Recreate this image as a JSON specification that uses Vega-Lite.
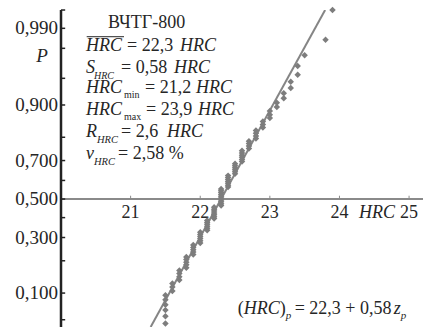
{
  "$schema": "https://vega.github.io/schema/vega-lite/v6.json",
  "width": 362,
  "height": 317,
  "autosize": {"type": "none"},
  "padding": {"left": 61, "top": 10, "right": 0, "bottom": 0},
  "background": "white",
  "data": {"values": [{}]},
  "config": {
    "view": {"stroke": null},
    "font": "Liberation Serif",
    "text": {"font": "Liberation Serif", "fontSize": 18, "color": "#262626", "align": "left", "baseline": "alphabetic"}
  },
  "encoding": {
    "x": {"type": "quantitative", "axis": null, "scale": {"domain": [20, 25.2], "nice": false, "zero": false}},
    "y": {"type": "quantitative", "axis": null, "scale": {"domain": [-1.744, 2.576], "nice": false, "zero": false}}
  },
  "datasets": {
    "hardness": [
      {"hrc": 21.2, "z": -2.576}, {"hrc": 21.3, "z": -2.170}, {"hrc": 21.4, "z": -1.960}, {"hrc": 21.5, "z": -1.812},
      {"hrc": 21.5, "z": -1.695}, {"hrc": 21.5, "z": -1.598}, {"hrc": 21.5, "z": -1.514}, {"hrc": 21.5, "z": -1.440},
      {"hrc": 21.5, "z": -1.372}, {"hrc": 21.5, "z": -1.311}, {"hrc": 21.6, "z": -1.254}, {"hrc": 21.6, "z": -1.200},
      {"hrc": 21.6, "z": -1.150}, {"hrc": 21.7, "z": -1.103}, {"hrc": 21.7, "z": -1.058}, {"hrc": 21.7, "z": -1.015},
      {"hrc": 21.7, "z": -0.974}, {"hrc": 21.8, "z": -0.935}, {"hrc": 21.8, "z": -0.896}, {"hrc": 21.8, "z": -0.860},
      {"hrc": 21.8, "z": -0.824}, {"hrc": 21.8, "z": -0.789}, {"hrc": 21.9, "z": -0.755}, {"hrc": 21.9, "z": -0.722},
      {"hrc": 21.9, "z": -0.690}, {"hrc": 21.9, "z": -0.659}, {"hrc": 21.9, "z": -0.628}, {"hrc": 22.0, "z": -0.598},
      {"hrc": 22.0, "z": -0.568}, {"hrc": 22.0, "z": -0.539}, {"hrc": 22.0, "z": -0.510}, {"hrc": 22.0, "z": -0.482},
      {"hrc": 22.0, "z": -0.454}, {"hrc": 22.1, "z": -0.426}, {"hrc": 22.1, "z": -0.399}, {"hrc": 22.1, "z": -0.372},
      {"hrc": 22.1, "z": -0.345}, {"hrc": 22.1, "z": -0.319}, {"hrc": 22.1, "z": -0.292}, {"hrc": 22.2, "z": -0.266},
      {"hrc": 22.2, "z": -0.240}, {"hrc": 22.2, "z": -0.215}, {"hrc": 22.2, "z": -0.189}, {"hrc": 22.2, "z": -0.164},
      {"hrc": 22.2, "z": -0.138}, {"hrc": 22.2, "z": -0.113}, {"hrc": 22.3, "z": -0.088}, {"hrc": 22.3, "z": -0.063},
      {"hrc": 22.3, "z": -0.038}, {"hrc": 22.3, "z": -0.013}, {"hrc": 22.3, "z": 0.013}, {"hrc": 22.3, "z": 0.038},
      {"hrc": 22.3, "z": 0.063}, {"hrc": 22.3, "z": 0.088}, {"hrc": 22.3, "z": 0.113}, {"hrc": 22.3, "z": 0.138},
      {"hrc": 22.4, "z": 0.164}, {"hrc": 22.4, "z": 0.189}, {"hrc": 22.4, "z": 0.215}, {"hrc": 22.4, "z": 0.240},
      {"hrc": 22.4, "z": 0.266}, {"hrc": 22.4, "z": 0.292}, {"hrc": 22.4, "z": 0.319}, {"hrc": 22.5, "z": 0.345},
      {"hrc": 22.5, "z": 0.372}, {"hrc": 22.5, "z": 0.399}, {"hrc": 22.5, "z": 0.426}, {"hrc": 22.5, "z": 0.454},
      {"hrc": 22.5, "z": 0.482}, {"hrc": 22.6, "z": 0.510}, {"hrc": 22.6, "z": 0.539}, {"hrc": 22.6, "z": 0.568},
      {"hrc": 22.6, "z": 0.598}, {"hrc": 22.6, "z": 0.628}, {"hrc": 22.6, "z": 0.659}, {"hrc": 22.7, "z": 0.690},
      {"hrc": 22.7, "z": 0.722}, {"hrc": 22.7, "z": 0.755}, {"hrc": 22.7, "z": 0.789}, {"hrc": 22.8, "z": 0.824},
      {"hrc": 22.8, "z": 0.860}, {"hrc": 22.8, "z": 0.896}, {"hrc": 22.8, "z": 0.935}, {"hrc": 22.9, "z": 0.974},
      {"hrc": 22.9, "z": 1.015}, {"hrc": 22.9, "z": 1.058}, {"hrc": 23.0, "z": 1.103}, {"hrc": 23.0, "z": 1.150},
      {"hrc": 23.0, "z": 1.200}, {"hrc": 23.1, "z": 1.254}, {"hrc": 23.1, "z": 1.311}, {"hrc": 23.2, "z": 1.372},
      {"hrc": 23.2, "z": 1.440}, {"hrc": 23.3, "z": 1.514}, {"hrc": 23.3, "z": 1.598}, {"hrc": 23.4, "z": 1.695},
      {"hrc": 23.4, "z": 1.812}, {"hrc": 23.5, "z": 1.960}, {"hrc": 23.8, "z": 2.170}, {"hrc": 23.9, "z": 2.576}
    ],
    "fit": [
      {"hrc": 21.288, "z": -1.744},
      {"hrc": 23.794, "z": 2.576}
    ],
    "pTicks": [
      {"z": -1.6449, "label": ""}, {"z": -1.2816, "label": "0,100"}, {"z": -0.8416, "label": ""},
      {"z": -0.5244, "label": "0,300"}, {"z": -0.2533, "label": ""}, {"z": 0, "label": "0,500"},
      {"z": 0.2533, "label": ""}, {"z": 0.5244, "label": "0,700"}, {"z": 0.8416, "label": ""},
      {"z": 1.2816, "label": "0,900"}, {"z": 1.6449, "label": ""}, {"z": 2.0537, "label": ""},
      {"z": 2.3263, "label": "0,990"}, {"z": 2.5758, "label": ""}
    ],
    "hrcTicks": [
      {"hrc": 21, "label": "21"}, {"hrc": 22, "label": "22"}, {"hrc": 23, "label": "23"},
      {"hrc": 24, "label": "24"}, {"hrc": 25, "label": "25"}
    ]
  },
  "layer": [
    {
      "mark": {"type": "rule", "color": "#8a8a8a", "strokeWidth": 2},
      "encoding": {"x": {"datum": 20}, "x2": {"datum": 25.2}, "y": {"datum": 0}}
    },
    {
      "data": {"name": "hrcTicks"},
      "mark": {"type": "rule", "color": "#8a8a8a", "strokeWidth": 1},
      "encoding": {"x": {"field": "hrc"}, "y": {"datum": 0}, "y2": {"datum": 0.045}}
    },
    {
      "data": {"name": "hrcTicks"},
      "mark": {"type": "text", "align": "center", "dy": 19},
      "encoding": {"x": {"field": "hrc"}, "y": {"datum": 0}, "text": {"field": "label"}}
    },
    {
      "mark": {"type": "text", "align": "center", "dy": 19, "fontStyle": "italic"},
      "encoding": {"x": {"datum": 24.54}, "y": {"datum": 0}, "text": {"value": "HRC"}}
    },
    {
      "data": {"name": "fit"},
      "mark": {"type": "line", "color": "#858585", "strokeWidth": 2, "clip": true},
      "encoding": {"x": {"field": "hrc"}, "y": {"field": "z"}}
    },
    {
      "data": {"name": "hardness"},
      "mark": {"type": "point", "shape": "diamond", "filled": true, "size": 42, "color": "#7d7d7d", "opacity": 1},
      "encoding": {"x": {"field": "hrc"}, "y": {"field": "z"}}
    },
    {
      "mark": {"type": "rule", "color": "#222222", "strokeWidth": 2.5},
      "encoding": {"x": {"datum": 20}, "y": {"datum": -1.744}, "y2": {"datum": 2.576}}
    },
    {
      "data": {"name": "pTicks"},
      "mark": {"type": "rule", "color": "#222222", "strokeWidth": 1.5},
      "encoding": {"x": {"datum": 20}, "x2": {"datum": 20.06}, "y": {"field": "z"}}
    },
    {
      "data": {"name": "pTicks"},
      "mark": {"type": "text", "align": "right", "baseline": "middle", "dx": -3, "fontSize": 19},
      "encoding": {"x": {"datum": 20}, "y": {"field": "z"}, "text": {"field": "label"}}
    },
    {
      "mark": {"type": "text", "align": "center", "baseline": "middle", "fontStyle": "italic", "fontSize": 19},
      "encoding": {"x": {"datum": 19.727}, "y": {"datum": 1.949}, "text": {"value": "P"}}
    },

    {"mark": {"type": "text", "dx": 22}, "encoding": {"x": {"datum": 20.359}, "y": {"datum": 2.330}, "text": {"value": "ВЧТГ-800"}}},

    {"mark": {"type": "text", "fontStyle": "italic"}, "encoding": {"x": {"datum": 20.359}, "y": {"datum": 2.016}, "text": {"value": "HRC"}}},
    {"mark": {"type": "rule", "color": "#262626", "strokeWidth": 1}, "encoding": {"x": {"datum": 20.369}, "x2": {"datum": 20.905}, "y": {"datum": 2.212}}},
    {"mark": {"type": "text", "dx": 41}, "encoding": {"x": {"datum": 20.359}, "y": {"datum": 2.016}, "text": {"value": "= 22,3"}}},
    {"mark": {"type": "text", "dx": 94, "fontStyle": "italic"}, "encoding": {"x": {"datum": 20.359}, "y": {"datum": 2.016}, "text": {"value": "HRC"}}},

    {"mark": {"type": "text", "fontStyle": "italic"}, "encoding": {"x": {"datum": 20.359}, "y": {"datum": 1.717}, "text": {"value": "S"}}},
    {"mark": {"type": "text", "dx": 8, "dy": 6, "fontSize": 10, "fontStyle": "italic"}, "encoding": {"x": {"datum": 20.359}, "y": {"datum": 1.717}, "text": {"value": "HRC"}}},
    {"mark": {"type": "text", "dx": 35}, "encoding": {"x": {"datum": 20.359}, "y": {"datum": 1.717}, "text": {"value": "= 0,58"}}},
    {"mark": {"type": "text", "dx": 88, "fontStyle": "italic"}, "encoding": {"x": {"datum": 20.359}, "y": {"datum": 1.717}, "text": {"value": "HRC"}}},

    {"mark": {"type": "text", "fontStyle": "italic"}, "encoding": {"x": {"datum": 20.359}, "y": {"datum": 1.451}, "text": {"value": "HRC"}}},
    {"mark": {"type": "text", "dx": 38, "dy": 5, "fontSize": 10}, "encoding": {"x": {"datum": 20.359}, "y": {"datum": 1.451}, "text": {"value": "min"}}},
    {"mark": {"type": "text", "dx": 59}, "encoding": {"x": {"datum": 20.359}, "y": {"datum": 1.451}, "text": {"value": "= 21,2"}}},
    {"mark": {"type": "text", "dx": 110, "fontStyle": "italic"}, "encoding": {"x": {"datum": 20.359}, "y": {"datum": 1.451}, "text": {"value": "HRC"}}},

    {"mark": {"type": "text", "fontStyle": "italic"}, "encoding": {"x": {"datum": 20.359}, "y": {"datum": 1.144}, "text": {"value": "HRC"}}},
    {"mark": {"type": "text", "dx": 38, "dy": 5, "fontSize": 10}, "encoding": {"x": {"datum": 20.359}, "y": {"datum": 1.144}, "text": {"value": "max"}}},
    {"mark": {"type": "text", "dx": 60}, "encoding": {"x": {"datum": 20.359}, "y": {"datum": 1.144}, "text": {"value": "= 23,9"}}},
    {"mark": {"type": "text", "dx": 112, "fontStyle": "italic"}, "encoding": {"x": {"datum": 20.359}, "y": {"datum": 1.144}, "text": {"value": "HRC"}}},

    {"mark": {"type": "text", "fontStyle": "italic"}, "encoding": {"x": {"datum": 20.359}, "y": {"datum": 0.845}, "text": {"value": "R"}}},
    {"mark": {"type": "text", "dx": 11, "dy": 6, "fontSize": 10.5, "fontStyle": "italic"}, "encoding": {"x": {"datum": 20.359}, "y": {"datum": 0.845}, "text": {"value": "HRC"}}},
    {"mark": {"type": "text", "dx": 35}, "encoding": {"x": {"datum": 20.359}, "y": {"datum": 0.845}, "text": {"value": "= 2,6"}}},
    {"mark": {"type": "text", "dx": 81, "fontStyle": "italic"}, "encoding": {"x": {"datum": 20.359}, "y": {"datum": 0.845}, "text": {"value": "HRC"}}},

    {"mark": {"type": "text", "fontStyle": "italic"}, "encoding": {"x": {"datum": 20.359}, "y": {"datum": 0.552}, "text": {"value": "v"}}},
    {"mark": {"type": "text", "dx": 8, "dy": 6, "fontSize": 10.5, "fontStyle": "italic"}, "encoding": {"x": {"datum": 20.359}, "y": {"datum": 0.552}, "text": {"value": "HRC"}}},
    {"mark": {"type": "text", "dx": 32}, "encoding": {"x": {"datum": 20.359}, "y": {"datum": 0.552}, "text": {"value": "= 2,58 %"}}},

    {"mark": {"type": "text"}, "encoding": {"x": {"datum": 22.538}, "y": {"datum": -1.567}, "text": {"value": "("}}},
    {"mark": {"type": "text", "dx": 6, "fontStyle": "italic"}, "encoding": {"x": {"datum": 22.538}, "y": {"datum": -1.567}, "text": {"value": "HRC"}}},
    {"mark": {"type": "text", "dx": 42}, "encoding": {"x": {"datum": 22.538}, "y": {"datum": -1.567}, "text": {"value": ")"}}},
    {"mark": {"type": "text", "dx": 48, "dy": 5, "fontSize": 11, "fontStyle": "italic"}, "encoding": {"x": {"datum": 22.538}, "y": {"datum": -1.567}, "text": {"value": "p"}}},
    {"mark": {"type": "text", "dx": 57}, "encoding": {"x": {"datum": 22.538}, "y": {"datum": -1.567}, "text": {"value": "= 22,3 + 0,58"}}},
    {"mark": {"type": "text", "dx": 156, "fontStyle": "italic"}, "encoding": {"x": {"datum": 22.538}, "y": {"datum": -1.567}, "text": {"value": "z"}}},
    {"mark": {"type": "text", "dx": 163, "dy": 5, "fontSize": 11, "fontStyle": "italic"}, "encoding": {"x": {"datum": 22.538}, "y": {"datum": -1.567}, "text": {"value": "p"}}}
  ]
}
